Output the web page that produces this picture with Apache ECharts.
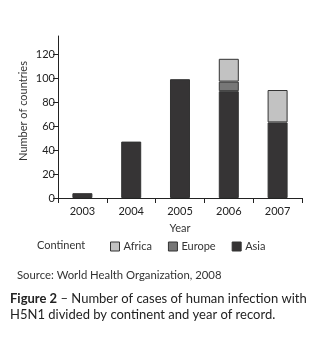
<!DOCTYPE html>
<html>
<head>
<meta charset="utf-8">
<script src="https://cdn.jsdelivr.net/npm/echarts@6/dist/echarts.min.js"></script>
<style>
html,body{margin:0;padding:0;background:#fff;}
#chart{width:330px;height:342px;}
</style>
</head>
<body>
<div id="chart"></div>
<script>
var years = ['2003', '2004', '2005', '2006', '2007'];
var asia = [4, 47, 99, 89, 63];
var europe = [0, 0, 0, 8, 0];
var africa = [0, 0, 0, 19, 27];
var yTicks = [0, 20, 40, 60, 80, 100, 120];
var legendNames = ['Africa', 'Europe', 'Asia'];

var FONT = 'Lato, "Open Sans", sans-serif';
var TXT = '#333';
var chart = echarts.init(document.getElementById('chart'), null, {renderer: 'canvas'});

function barSeries(name, data, color) {
  return {
    name: name,
    type: 'bar',
    stack: 'total',
    barWidth: '41%',
    data: data.map(function (v) { return v === 0 ? null : v; }),
    itemStyle: {color: color, borderColor: '#333', borderWidth: 1},
    emphasis: {disabled: true}
  };
}

chart.setOption({
  animation: false,
  textStyle: {fontFamily: FONT},
  grid: {left: 58, right: 28, top: 36, bottom: 144},
  xAxis: {
    type: 'category',
    data: years,
    name: 'Year',
    nameLocation: 'middle',
    nameGap: 25,
    nameTextStyle: {color: TXT, fontSize: 11, fontFamily: FONT},
    axisLine: {lineStyle: {color: '#222', width: 1}},
    axisTick: {show: true, length: 5, lineStyle: {color: '#222'}},
    axisLabel: {color: '#222', fontSize: 11, margin: 8, fontFamily: FONT}
  },
  yAxis: {
    type: 'value',
    min: 0,
    max: 135,
    interval: 20,
    name: 'Number of countries',
    nameLocation: 'middle',
    nameGap: 29,
    nameMoveOverlap: false,
    nameTextStyle: {color: TXT, fontSize: 11, fontFamily: FONT, padding: [0, 0, 0, 12]},
    splitLine: {show: false},
    axisLine: {show: true, lineStyle: {color: '#222', width: 1}},
    axisTick: {show: true, length: 5, lineStyle: {color: '#222'}, customValues: yTicks},
    axisLabel: {color: '#222', fontSize: 11, margin: 3, fontFamily: FONT, customValues: yTicks}
  },
  legend: {
    data: legendNames,
    left: 110,
    top: 241,
    padding: 0,
    icon: 'rect',
    itemWidth: 9,
    itemHeight: 9,
    itemGap: 16,
    textStyle: {color: TXT, fontSize: 11, fontFamily: FONT, padding: [0, 0, 0, -1]},
    itemStyle: {borderColor: '#333', borderWidth: 1},
    selectedMode: false
  },
  graphic: [
    {type: 'text', left: 37, top: 240, style: {text: 'Continent', fill: TXT, font: '11px ' + FONT}},
    {type: 'text', left: 17, top: 270, style: {text: 'Source: World Health Organization, 2008', fill: TXT, font: '11.3px ' + FONT}},
    {type: 'text', left: 10, top: 291, style: {
      text: '{b|Figure 2} – Number of cases of human infection with\nH5N1 divided by continent and year of record.',
      fill: '#222', font: '13px ' + FONT, lineHeight: 16,
      rich: {b: {fontWeight: 'bold', fontSize: 13, fontFamily: FONT, fill: '#222'}}
    }}
  ],
  series: [
    barSeries('Asia', asia, '#363435'),
    barSeries('Europe', europe, '#777777'),
    barSeries('Africa', africa, '#c2c2c2')
  ]
});
</script>
</body>
</html>
